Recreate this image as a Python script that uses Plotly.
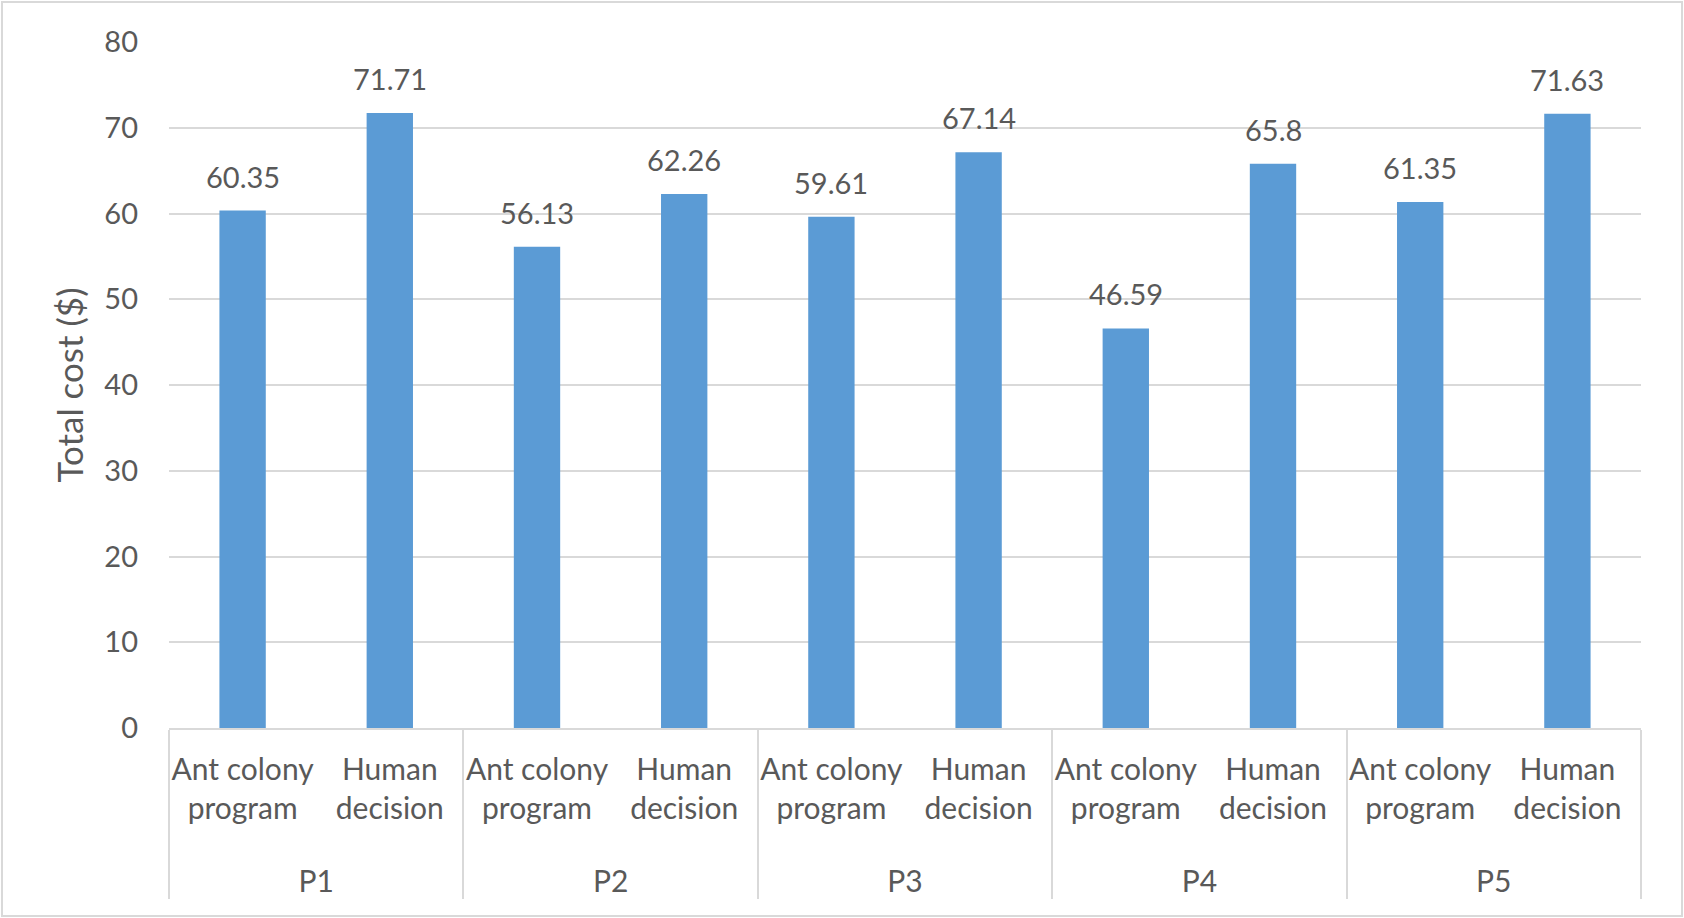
import plotly.graph_objects as go

# groups and methods
projects = ['P1', 'P1', 'P2', 'P2', 'P3', 'P3', 'P4', 'P4', 'P5', 'P5']
methods = ['Ant colony<br>program', 'Human<br>decision'] * 5
total_cost = [60.35, 71.71, 56.13, 62.26, 59.61, 67.14, 46.59, 65.8, 61.35, 71.63]
y_ticks = [0, 10, 20, 30, 40, 50, 60, 70, 80]

W, H = 1684, 918
ML, MR, MT, MB = 169, 43, 42, 190
grey = '#595959'
font = 'Lato'
fs = 29
xfs = 30

# a tall blank third line pushes the P row down, like the Excel layout
sub_labels = [m + "<br><span style='font-size:75px'> </span>" for m in methods]

fig = go.Figure()
fig.add_trace(go.Bar(
    x=[projects, sub_labels],
    y=total_cost,
    marker=dict(color='#5B9BD5', line=dict(width=0)),
    width=0.315,
    hoverinfo='y',
))

# data labels above bars
for i, v in enumerate(total_cost):
    fig.add_annotation(x=i, y=v, xref='x', yref='y', text=str(v),
                       showarrow=False, yanchor='bottom', yshift=15,
                       font=dict(family=font, size=fs, color=grey))

pw = W - ML - MR
ph = H - MT - MB
# outer chart border
fig.add_shape(type='rect', xref='paper', yref='paper',
              x0=(2 - ML) / pw, x1=(W - 2 - ML) / pw,
              y0=-(MB - 2) / ph, y1=1 + (MT - 2) / ph,
              line=dict(color='#D9D9D9', width=2), fillcolor='rgba(0,0,0,0)')

fig.update_layout(
    width=W, height=H,
    margin=dict(l=ML, r=MR, t=MT, b=MB),
    paper_bgcolor='white', plot_bgcolor='white',
    showlegend=False,
    font=dict(family=font, size=fs, color=grey),
    xaxis=dict(
        type='multicategory', tickangle=0, automargin=False,
        ticklabelstandoff=14,
        showline=True, linecolor='#D9D9D9', linewidth=2,
        showdividers=True, dividercolor='#D9D9D9', dividerwidth=2,
        tickfont=dict(family=font, size=xfs, color=grey),
        showgrid=False,
    ),
    yaxis=dict(
        range=[0, 80], tickvals=y_ticks, automargin=False,
        showgrid=True, gridcolor='#D9D9D9', gridwidth=2,
        zeroline=False, showline=False,
        ticklabelstandoff=30,
        tickfont=dict(family=font, size=fs, color=grey),
        title=dict(text='Total cost ($)', standoff=10,
                   font=dict(family=font, size=35, color=grey)),
    ),
)

fig.write_html('out.html', config={'displayModeBar': False},
               post_script="document.body.style.margin='0';")
